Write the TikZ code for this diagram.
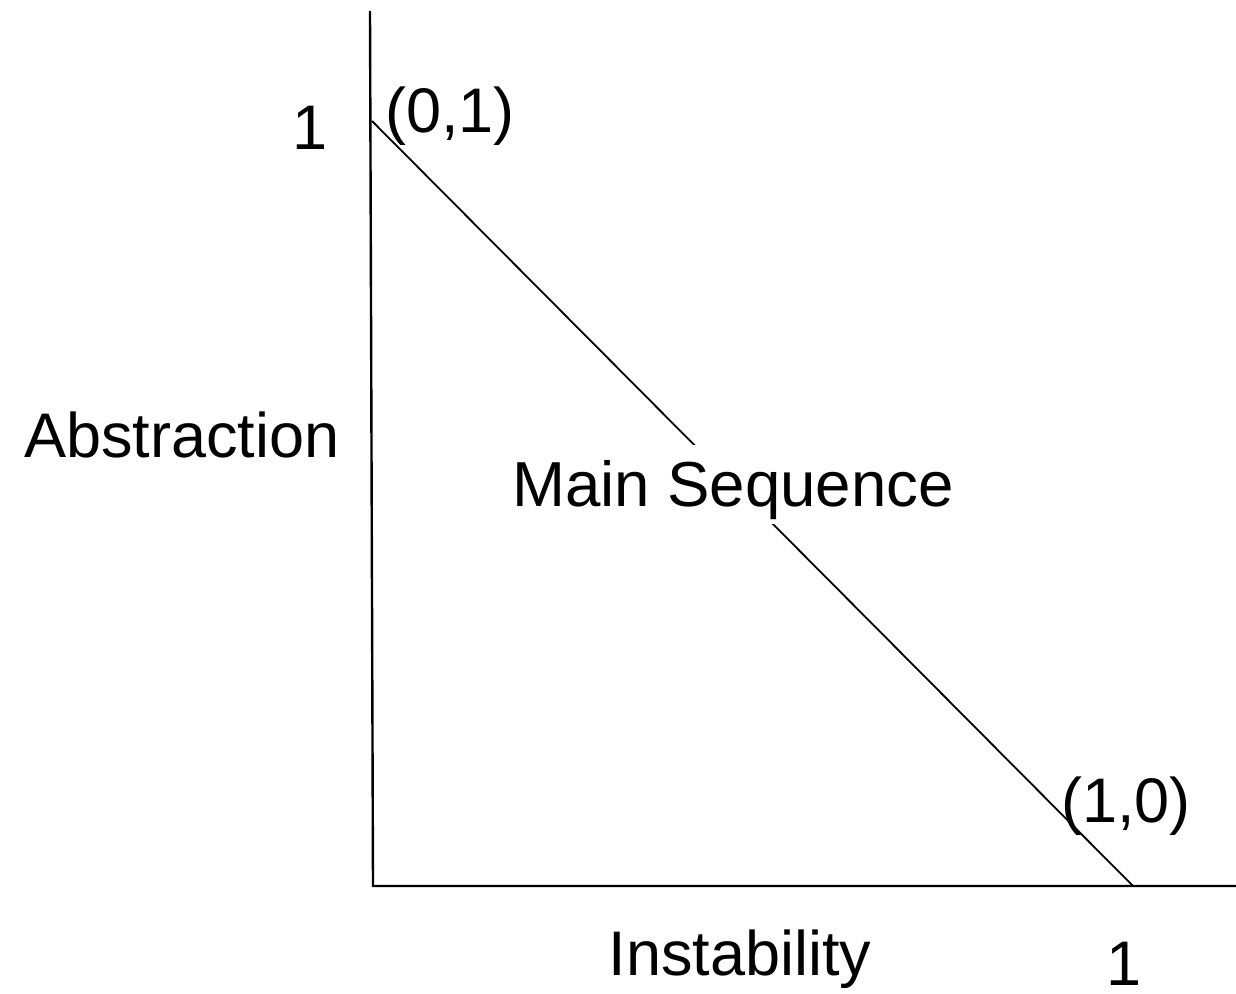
\documentclass[tikz,border=0pt]{standalone}
\usepackage{fontspec}
\setmainfont{Liberation Sans}
\begin{document}
\begin{tikzpicture}[x=0.5pt,y=-0.5pt,
  lbl/.style={inner sep=0pt,anchor=base,font=\fontsize{31.5pt}{36pt}\selectfont},
  axis/.style={line width=1.2pt,line cap=rect},
  diag/.style={line width=0.9pt}]
\useasboundingbox (0,0) rectangle (1236,994);
\coordinate (ytop) at (370,12);
\coordinate (orig) at (373,886);
\coordinate (xend) at (1236,886);
\coordinate (p01) at (372,121);
\coordinate (p10) at (1133,886);
\draw[axis] (ytop) -- (orig) -- (xend);
\draw[diag] (p01) -- (p10);
\node[lbl,fill=white,text height=30.5pt,text depth=9pt] (ms) at (733,506) {\fontsize{31.8pt}{36pt}\selectfont Main Sequence};
\node[lbl] (one-y) at (310,150) {1};
\node[lbl] (l01) at (450,133) {(0,1)};
\node[lbl] (abs) at (182,458) {Abstraction};
\node[lbl] (l10) at (1126,822) {(1,0)};
\node[lbl] (inst) at (740,975) {Instability};
\node[lbl] (one-x) at (1124,985) {1};
\end{tikzpicture}
\end{document}
